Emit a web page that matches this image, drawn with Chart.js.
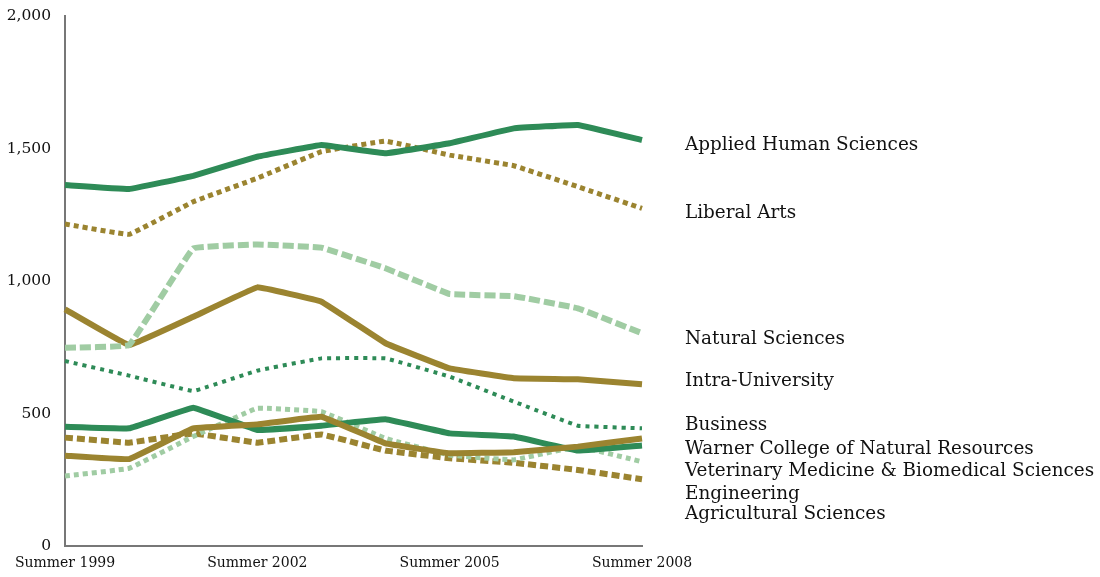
<!DOCTYPE html>
<html>
<head>
<meta charset="utf-8">
<script src="https://cdn.jsdelivr.net/npm/chart.js@4/dist/chart.umd.min.js"></script>
<style>
  html, body { margin: 0; padding: 0; background: #fff; }
  #wrap { width: 1100px; height: 577px; position: relative; }
</style>
</head>
<body>
<div id="wrap"><canvas id="chart"></canvas></div>
<script>
// Anos (rótulos do eixo x)
const years = ['Summer 1999', 'Summer 2000', 'Summer 2001', 'Summer 2002', 'Summer 2003',
               'Summer 2004', 'Summer 2005', 'Summer 2006', 'Summer 2007', 'Summer 2008'];
const yTicks = [0, 500, 1000, 1500, 2000];

const appliedHuman   = [1362, 1347, 1397, 1469, 1513, 1482, 1520, 1576, 1589, 1532];
const liberalArts    = [1215, 1176, 1299, 1388, 1488, 1528, 1475, 1435, 1356, 1274];
const naturalSci     = [748, 758, 1123, 1138, 1126, 1048, 951, 943, 897, 803];
const intraUniv      = [893, 758, 865, 976, 922, 765, 670, 633, 629, 610];
const business       = [698, 643, 585, 662, 708, 708, 639, 545, 454, 444];
const warner         = [341, 328, 444, 459, 488, 387, 350, 354, 375, 406];
const vetMed         = [450, 444, 522, 438, 454, 478, 425, 413, 360, 379];
const engineering    = [264, 293, 413, 520, 507, 406, 343, 325, 375, 318];
const agricultural   = [409, 390, 425, 390, 421, 360, 331, 314, 287, 252];

const GREEN = '#2e8b57';
const GOLD = '#9b8430';
const LIGHT = '#a0cca3';
const FONT = '"DejaVu Serif", "Liberation Serif", serif';

// rótulos à direita: texto + altura (em unidades do eixo y)
const sideLabels = [
    ['Applied Human Sciences', 1513],
    ['Liberal Arts', 1257],
    ['Natural Sciences', 781],
    ['Intra-University', 623],
    ['Business', 457],
    ['Warner College of Natural Resources', 366],
    ['Veterinary Medicine & Biomedical Sciences', 283],
    ['Engineering', 196],
    ['Agricultural Sciences', 121]
];

const sideLabelPlugin = {
    id: 'sideLabels',
    afterDraw(chart) {
        const { ctx, scales } = chart;
        ctx.save();
        ctx.font = '18.4px ' + FONT;
        ctx.fillStyle = '#111';
        ctx.textBaseline = 'middle';
        ctx.textAlign = 'left';
        sideLabels.forEach(([text, v]) => {
            ctx.fillText(text, 685, scales.y.getPixelForValue(v));
        });
        ctx.restore();
    }
};

function line(label, data, color, width, dash) {
    return {
        label, data,
        borderColor: color,
        borderWidth: width,
        borderDash: dash || [],
        borderCapStyle: 'butt',
        pointRadius: 0,
        tension: 0.05,
        fill: false
    };
}

new Chart(document.getElementById('chart').getContext('2d'), {
    type: 'line',
    data: {
        labels: years,
        datasets: [
            line('Applied Human Sciences', appliedHuman, GREEN, 6),
            line('Liberal Arts', liberalArts, GOLD, 5, [5, 4]),
            line('Natural Sciences', naturalSci, LIGHT, 6, [11, 4]),
            line('Intra-University', intraUniv, GOLD, 6),
            line('Business', business, GREEN, 4, [4, 5]),
            line('Warner College of Natural Resources', warner, GOLD, 6),
            line('Veterinary Medicine & Biomedical Sciences', vetMed, GREEN, 6),
            line('Engineering', engineering, LIGHT, 5, [5, 4]),
            line('Agricultural Sciences', agricultural, GOLD, 6, [8, 4])
        ]
    },
    options: {
        responsive: true,
        maintainAspectRatio: false,
        animation: false,
        layout: { padding: { top: 16, right: 458, left: 0, bottom: 0 } },
        plugins: { legend: { display: false }, tooltip: { enabled: false } },
        scales: {
            x: {
                offset: false,
                grid: { display: false, drawTicks: false },
                border: { color: '#777', width: 2 },
                ticks: {
                    autoSkip: false,
                    maxRotation: 0,
                    padding: 13,
                    color: '#111',
                    font: { family: FONT, size: 14, lineHeight: 0.6 },
                    callback: (v, i) => (i % 3 === 0 ? years[i] : '')
                },
                afterFit: s => { s.height = 31; }
            },
            y: {
                min: 0,
                max: 2000,
                grid: { display: false, drawTicks: false },
                border: { color: '#777', width: 2 },
                afterBuildTicks: s => { s.ticks = yTicks.map(v => ({ value: v })); },
                ticks: {
                    padding: 14,
                    color: '#111',
                    font: { family: FONT, size: 15.5, lineHeight: 0.2 },
                    callback: v => v.toLocaleString('en-US')
                },
                afterFit: s => { s.width = 65; }
            }
        }
    },
    plugins: [sideLabelPlugin]
});
</script>
</body>
</html>
